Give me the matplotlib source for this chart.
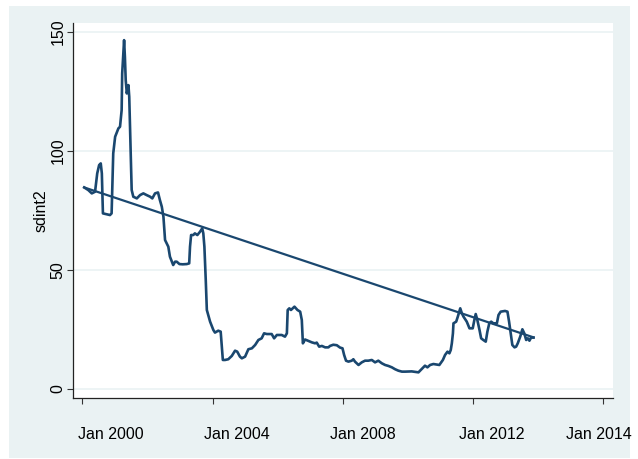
import matplotlib
matplotlib.use("Agg")
import matplotlib.pyplot as plt
from matplotlib.patches import Rectangle

plt.rcParams['font.family'] = ['Liberation Sans', 'DejaVu Sans']

# months since Jan 2000 and the sdint2 series
months = [0.7, 2.2, 3.5, 4.7, 5.5, 6.2, 6.8, 7.2, 7.5, 7.6, 9.0, 10.2, 10.8, 11.4, 12.1,
          13.3, 13.9, 14.5, 14.7, 15.4, 15.7, 16.0, 16.4, 17.0, 17.3, 17.6, 18.0, 18.2,
          18.8, 20.1, 21.3, 22.5, 23.7, 25.0, 25.8, 26.8, 27.9, 28.6, 29.3, 29.9, 30.5,
          31.1, 31.7, 32.3, 33.0, 33.5, 34.2, 34.8, 35.8, 37.0, 38.5, 39.4, 39.7, 40.1,
          40.9, 41.5, 42.4, 43.4, 44.2, 44.6, 45.0, 45.5, 45.9, 47.1, 48.3, 48.9, 50.1,
          51.0, 51.8, 52.6, 53.8, 55.1, 56.3, 57.1, 58.1, 58.8, 60.0, 61.2, 62.5, 63.7,
          64.9, 66.1, 67.0, 68.0, 69.8, 70.7, 71.7, 73.5, 74.7, 75.4, 75.7, 76.3, 76.9,
          78.2, 79.3, 80.3, 80.9, 81.3, 82.1, 83.3, 84.6, 85.8, 86.4, 87.3, 88.3, 89.5,
          90.7, 91.3, 92.5, 93.8, 95.0, 95.9, 96.5, 97.2, 98.1, 99.3, 99.9, 100.5, 101.8,
          103.0, 104.2, 105.4, 106.7, 107.9, 109.1, 110.4, 111.6, 112.8, 114.1, 115.3,
          116.5, 117.8, 119.0, 121.4, 123.9, 125.1, 126.3, 127.2, 128.2, 129.4, 131.6,
          132.9, 133.7, 134.6, 135.3, 135.8, 136.2, 136.6, 136.8, 137.8, 138.4, 139.3,
          139.9, 140.5, 141.7, 142.7, 143.9, 144.5, 145.0, 145.6, 146.4, 147.0, 147.8,
          148.7, 149.3, 150.0, 150.7, 151.5, 152.8, 153.4, 154.2, 155.8, 156.7, 157.3,
          157.9, 158.5, 159.3, 159.9, 160.5, 161.4, 162.2, 162.9, 163.6, 164.2, 164.8,
          165.4, 166.3]
sdint2 = [84.7, 83.6, 82.2, 82.9, 90.6, 94.1, 94.8, 90.6, 76.6, 73.8, 73.4, 73.1, 73.8, 99.0,
          106.0, 109.5, 110.2, 117.2, 132.6, 146.6, 139.6, 129.8, 124.2, 127.7, 122.8,
          108.8, 92.0, 83.6, 80.8, 80.1, 81.5, 82.2, 81.5, 80.8, 80.1, 82.2, 82.6, 79.4,
          76.6, 72.4, 62.6, 61.2, 59.8, 55.6, 53.5, 52.1, 53.5, 53.5, 52.5, 52.4, 52.5,
          52.8, 59.8, 64.7, 64.7, 65.4, 64.7, 66.1, 67.5, 65.4, 59.8, 45.8, 33.2, 28.3,
          24.8, 23.7, 24.5, 24.1, 12.2, 12.2, 12.5, 13.9, 16.1, 15.7, 13.6, 12.9, 13.6,
          16.7, 17.1, 18.5, 20.6, 21.3, 23.4, 23.1, 23.1, 21.3, 22.7, 22.7, 22.0, 23.4,
          33.2, 33.9, 33.2, 34.6, 33.2, 32.5, 29.0, 19.2, 20.8, 20.2, 19.6, 19.2, 19.5,
          17.8, 18.1, 17.5, 17.5, 18.1, 18.6, 18.4, 17.4, 17.1, 14.3, 11.9, 11.5, 11.9,
          12.5, 11.5, 10.1, 11.2, 11.9, 11.9, 12.2, 11.2, 11.9, 10.8, 10.1, 9.7, 9.1, 8.3,
          7.7, 7.3, 7.3, 7.4, 7.0, 8.4, 9.8, 9.1, 10.1, 10.5, 10.1, 12.2, 14.3, 15.7, 15.0,
          16.4, 19.2, 23.4, 27.6, 28.3, 30.4, 33.9, 31.8, 30.4, 28.3, 25.5, 25.5, 29.0,
          31.5, 29.0, 24.8, 21.3, 20.6, 19.9, 24.1, 27.6, 28.3, 27.6, 27.6, 31.1, 32.5,
          32.8, 32.5, 28.3, 23.4, 18.5, 17.5, 17.8, 19.2, 22.0, 25.1, 23.4, 20.6, 21.3,
          20.3, 21.6, 21.6]

# linear fit over the sample span
fit_months = [0.7, 166.3]
fit_values = [84.7, 21.7]

tick_months = [0, 48, 96, 144, 192]
label_months = [10.6, 57.0, 103.5, 151.0, 190.5]
tick_labels = ['Jan 2000', 'Jan 2004', 'Jan 2008', 'Jan 2012', 'Jan 2014']
y_ticks = [0, 50, 100, 150]

navy = '#1A476F'
panel = '#EAF2F3'
fs = 11.5

fig = plt.figure(figsize=(6.38, 4.59), dpi=100, facecolor='white')
fig.patches.append(Rectangle((9 / 638, 1 / 459), 621 / 638, 452 / 459,
                             transform=fig.transFigure, facecolor=panel,
                             edgecolor='none', zorder=-10))

ax = fig.add_axes([72.7 / 638, 61 / 459, (613 - 72.7) / 638, (398 - 23) / 459])
ax.set_facecolor('white')

ax.plot(months, sdint2, color=navy, lw=1.9, solid_joinstyle='round', zorder=3)
ax.plot(fit_months, fit_values, color=navy, lw=1.6, zorder=3)

ax.set_xlim(-3.54, 195.6)
ax.set_ylim(-3.78, 153.8)

for v in y_ticks:
    ax.axhline(v, color=panel, lw=1.2, zorder=1)

# tick marks on minor locator, labels on major locator
ax.set_xticks(tick_months, minor=True)
ax.set_xticks(label_months)
ax.set_xticklabels(tick_labels)
ax.set_yticks(y_ticks)
ax.set_yticklabels([str(v) for v in y_ticks], rotation=90, va='center')

ax.tick_params(axis='x', which='major', length=0, pad=21, labelsize=fs)
ax.tick_params(axis='x', which='minor', length=4.3, width=0.8, color='#333333')
ax.tick_params(axis='y', length=4.3, width=0.8, color='#333333', pad=1,
               labelsize=fs)

for side in ['top', 'right']:
    ax.spines[side].set_visible(False)
for side in ['left', 'bottom']:
    ax.spines[side].set_color('#222222')
    ax.spines[side].set_linewidth(0.9)

ax.set_ylabel('sdint2', fontsize=fs, labelpad=1)

fig.savefig('out.png', dpi=100, facecolor='white')
